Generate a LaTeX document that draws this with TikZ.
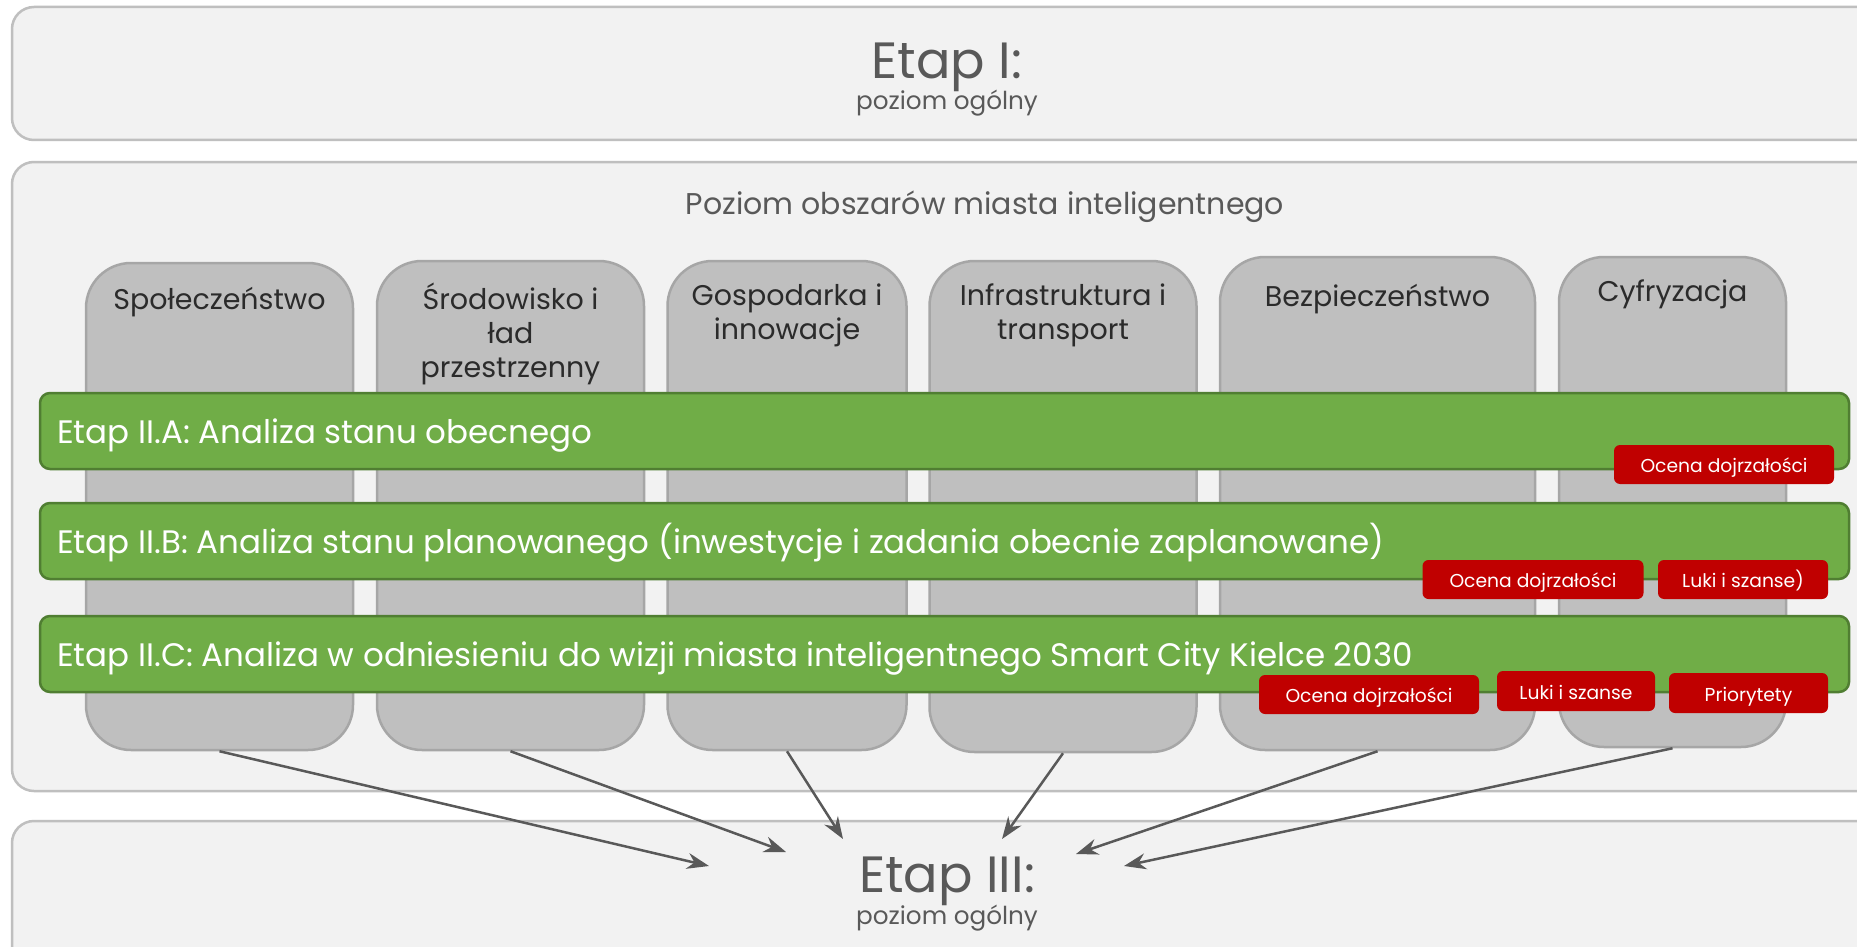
\documentclass[tikz,border=0pt]{standalone}
\usepackage{fontspec}
\setmainfont{Poppins}
\usetikzlibrary{positioning,calc,arrows.meta}
\definecolor{panelfill}{HTML}{F2F2F2}
\definecolor{panelline}{HTML}{BFBFBF}
\definecolor{areafill}{HTML}{BFBFBF}
\definecolor{arealine}{HTML}{A6A6A6}
\definecolor{areatext}{HTML}{2B2B2B}
\definecolor{bargreen}{HTML}{70AD47}
\definecolor{barline}{HTML}{507E32}
\definecolor{tagred}{HTML}{C00000}
\definecolor{titlegray}{HTML}{595959}
\tikzstyle{panel}=[
  draw=panelline, line width=2.5pt, fill=panelfill, rounded corners=22pt
]
\tikzstyle{area}=[
  draw=arealine, line width=2.5pt, fill=areafill, rounded corners=45pt, inner sep=0pt
]
\tikzstyle{areatext}=[
  anchor=base, align=center, inner sep=0pt, text=areatext, font=\fontsize{28.5}{34}\selectfont
]
\tikzstyle{etapbar}=[
  draw=barline, line width=2.5pt, fill=bargreen, rounded corners=10pt, inner sep=0pt
]
\tikzstyle{bartext}=[
  anchor=base west, inner sep=0pt, text=white, font=\fontsize{32.5}{36}\selectfont
]
\tikzstyle{tag}=[
  fill=tagred, rounded corners=6pt, inner sep=0pt, text height=18pt, text depth=2pt,
  text=white, font=\fontsize{18.7}{20}\selectfont
]
\tikzstyle{bigtitle}=[
  anchor=base, inner sep=0pt, text=titlegray, font=\fontsize{51}{56}\selectfont
]
\tikzstyle{subtitle}=[
  anchor=base, inner sep=0pt, text=titlegray, font=\fontsize{24.7}{28}\selectfont
]
\tikzstyle{flow}=[
  draw=titlegray, line width=2.5pt, -{Stealth[length=22pt,width=16pt]}
]

\begin{document}
\begin{tikzpicture}[x=1pt,y=-1pt]
    \fill[white] (0,0) rectangle (1857,947);
    \clip (0,0) rectangle (1857,947);
    % three levels
    \draw[panel] (12,7) rectangle (1900,140);
    \draw[panel] (12,162) rectangle (1900,791);
    \draw[panel] (12,821) rectangle (1900,990);
    \node (etap1) at (947,79) [bigtitle] {Etap I:};
    \node (etap1sub) at (947,110) [subtitle] {poziom ogólny};
    \node (obszary) at (985,214) [subtitle, font=\fontsize{30}{34}\selectfont] {Poziom obszarów miasta inteligentnego};
    \node (etap3) at (947,892) [bigtitle] {Etap III:};
    \node (etap3sub) at (947,924) [subtitle] {poziom ogólny};
    % areas
    \node (spol) at (219.5,506.5) [area, minimum width=267pt, minimum height=487pt] {};
    \node (srod) at (510.5,505.5) [area, minimum width=267pt, minimum height=489pt] {};
    \node (gosp) at (787,505.5) [area, minimum width=239pt, minimum height=489pt] {};
    \node (infr) at (1063,506.5) [area, minimum width=267pt, minimum height=491pt] {};
    \node (bezp) at (1377.5,503.5) [area, minimum width=315pt, minimum height=493pt] {};
    \node (cyfr) at (1672.5,502) [area, minimum width=227pt, minimum height=490pt] {};
    \node (spoltxt) at ($(spol.north) + (0,48)$) [areatext] {Społeczeństwo};
    \node (srodtxt) at ($(srod.north) + (0,44)$) [areatext, anchor=north, yshift=21pt] {Środowisko i\\ład\\przestrzenny};
    \node (gosptxt) at ($(gosp.north) + (0,45)$) [areatext, anchor=north, yshift=21pt] {Gospodarka i\\innowacje};
    \node (infrtxt) at ($(infr.north) + (0,45)$) [areatext, anchor=north, yshift=21pt] {Infrastruktura i\\transport};
    \node (bezptxt) at ($(bezp.north) + (0,51)$) [areatext] {Bezpieczeństwo};
    \node (cyfrtxt) at ($(cyfr.north) + (0,46)$) [areatext] {Cyfryzacja};
    % stages II
    \node (etapA) at (944.5,431) [etapbar, minimum width=1809pt, minimum height=76pt] {};
    \node (etapB) at (944.5,541) [etapbar, minimum width=1809pt, minimum height=76pt] {};
    \node (etapC) at (944.5,654) [etapbar, minimum width=1809pt, minimum height=76pt] {};
    \node (etapAtxt) at (57,443) [bartext] {Etap II.A: Analiza stanu obecnego};
    \node (etapBtxt) at (57,553) [bartext] {Etap II.B: Analiza stanu planowanego (inwestycje i zadania obecnie zaplanowane)};
    \node (etapCtxt) at (57,666) [bartext] {Etap II.C: Analiza w odniesieniu do wizji miasta inteligentnego Smart City Kielce 2030};
    \node (ocenaA) at (1724,464.5) [tag, minimum width=220pt, minimum height=39pt] {Ocena dojrzałości};
    \node (ocenaB) at (1533,579.5) [tag, minimum width=221pt, minimum height=39pt] {Ocena dojrzałości};
    \node (lukiB) at (1743,579.5) [tag, minimum width=170pt, minimum height=39pt] {Luki i szanse)};
    \node (ocenaC) at (1369,694.5) [tag, minimum width=220pt, minimum height=39pt] {Ocena dojrzałości};
    \node (lukiC) at (1576,691) [tag, minimum width=158pt, minimum height=40pt] {Luki i szanse};
    \node (prioC) at (1748.5,693) [tag, minimum width=159pt, minimum height=40pt] {Priorytety};
    % to stage III
    \coordinate (in1) at (709,866);
    \coordinate (in2) at (786,852);
    \coordinate (in3) at (843,839);
    \coordinate (in4) at (1002,839);
    \coordinate (in5) at (1076,854);
    \coordinate (in6) at (1124,866);
    \draw[flow] (spol.south) -- (in1);
    \draw[flow] (srod.south) -- (in2);
    \draw[flow] (gosp.south) -- (in3);
    \draw[flow] (infr.south) -- (in4);
    \draw[flow] (bezp.south) -- (in5);
    \draw[flow] (cyfr.south) -- (in6);
\end{tikzpicture}
\end{document}
